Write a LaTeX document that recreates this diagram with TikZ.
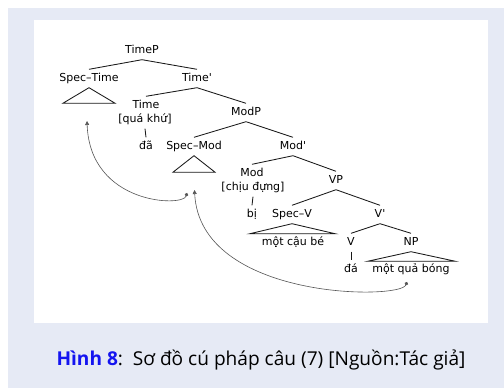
\documentclass[tikz,border=0pt]{standalone}
\usepackage{fontspec}
\usetikzlibrary{arrows.meta}
\newfontfamily\treefont{DejaVu Sans}
\newfontfamily\capfont{Open Sans}
\definecolor{panelbg}{RGB}{230,234,245}
\definecolor{capblue}{RGB}{20,20,240}
\definecolor{movegray}{RGB}{85,85,85}
\begin{document}
\begin{tikzpicture}[x=1pt,y=-1pt,
  lbl/.style={font=\treefont\fontsize{11}{12}\selectfont, inner xsep=1pt, inner ysep=3pt,
              text height=9pt, text depth=3pt, anchor=center},
  branch/.style={draw=black!90, line width=0.85pt},
  tri/.style={draw=black!90, line width=0.85pt, line join=miter},
  move/.style={draw=movegray, line width=0.6pt, {Circle[length=3.5pt]}-{Triangle[length=4pt,width=4pt]}}
]
\useasboundingbox (0,0) rectangle (504,388);
\fill[panelbg] (8,8) rectangle (504,388);
\fill[white] (34,20) rectangle (488,323);

% nodes
\node[lbl] (TimeP) at (142,50.5) {TimeP};
\node[lbl] (SpecTime) at (89,78.5) {Spec–Time};
\node[lbl] (Timebar) at (197,78.5) {Time'};
\node[lbl] (Time) at (146,105.5) {Time};
\node[lbl] (TimeF) at (145,119.5) {[quá khứ]};
\node[lbl] (da) at (146,146.5) {đã};
\node[lbl] (ModP) at (246,112.5) {ModP};
\node[lbl] (SpecMod) at (194,146.5) {Spec–Mod};
\node[lbl] (Modbar) at (293,146.5) {Mod'};
\node[lbl] (Mod) at (252,173.5) {Mod};
\node[lbl] (ModF) at (253,187.5) {[chịu đựng]};
\node[lbl] (bi) at (252,214.5) {bị};
\node[lbl] (VP) at (336,180.5) {VP};
\node[lbl] (SpecV) at (292,214.5) {Spec–V};
\node[lbl] (Vbar) at (380,214.5) {V'};
\node[lbl] (cauBe) at (293,242.5) {một cậu bé};
\node[lbl] (V) at (351,242.5) {V};
\node[lbl] (NP) at (411,242.5) {NP};
\node[lbl] (daV) at (351,269.5) {đá};
\node[lbl] (qua) at (411,269.5) {một quả bóng};

% branches
\draw[branch] (SpecTime.north) -- (TimeP.south) -- (Timebar.north);
\draw[branch] (Time.north) -- (Timebar.south) -- (ModP.north);
\draw[branch] (SpecMod.north) -- (ModP.south) -- (Modbar.north);
\draw[branch] (Mod.north) -- (Modbar.south) -- (VP.north);
\draw[branch] (SpecV.north) -- (VP.south) -- (Vbar.north);
\draw[branch] (V.north) -- (Vbar.south) -- (NP.north);
\draw[branch] (TimeF.south) -- (da.north);
\draw[branch] (ModF.south) -- (bi.north);
\draw[branch] (V.south) -- (daV.north);

% triangles
\draw[tri] (SpecTime.south) -- ++(-26,15.5) -- ++(52,0) -- cycle;
\draw[tri] (SpecMod.south) -- ++(-21,16.5) -- ++(42,0) -- cycle;
\draw[tri] (SpecV.south) -- ++(-42,10) -- ++(85,0) -- cycle;
\draw[tri] (NP.south) -- ++(-43,9.5) -- ++(87,0) -- cycle;

% movement arrows
\coordinate (dot1) at (187,193);
\coordinate (tip1) at (87,121);
\coordinate (dot2) at (407,282);
\coordinate (tip2) at (194.5,190);
\draw[move] (dot1) .. controls (183,207) and (90,205) .. (tip1);
\draw[move] (dot2) .. controls (400,300) and (200,300) .. (tip2);

% caption
\node[font=\capfont\fontsize{19.1}{22}\selectfont, anchor=center] (cap) at (261,360)
  {\textcolor{capblue}{\bfseries Hình 8}:\ \ Sơ đồ cú pháp câu (7) [Nguồn:Tác giả]};
\end{tikzpicture}
\end{document}
